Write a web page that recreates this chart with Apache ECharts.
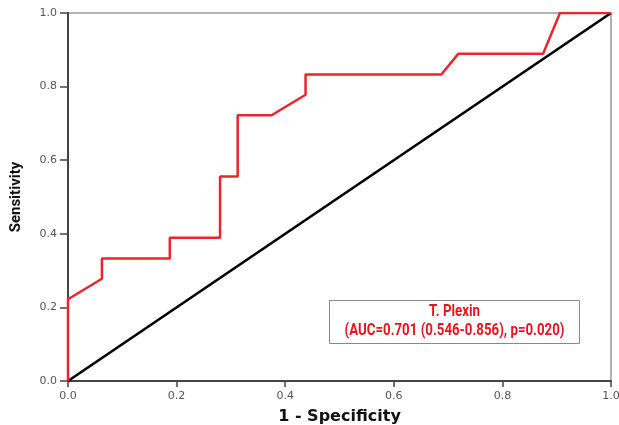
<!DOCTYPE html>
<html>
<head>
<meta charset="utf-8">
<script src="https://cdn.jsdelivr.net/npm/echarts@6/dist/echarts.min.js"></script>
<style>
  html, body { margin: 0; padding: 0; background: #fff; }
  #roc { width: 619px; height: 425px; }
</style>
</head>
<body>
<div id="roc"></div>
<script>
// ROC curve points
var fpr = [0, 0, 0.0625, 0.0625, 0.1875, 0.1875, 0.28, 0.28, 0.3125, 0.3125, 0.375, 0.4375, 0.4375, 0.6875, 0.71875, 0.875, 0.906, 1]
var tpr = [0, 0.222, 0.278, 0.333, 0.333, 0.389, 0.389, 0.556, 0.556, 0.722, 0.722, 0.778, 0.833, 0.833, 0.889, 0.889, 1, 1]
// reference line
var refX = [0, 1]
var refY = [0, 1]
var legendLines = ['T. Plexin', '(AUC=0.701 (0.546-0.856), p=0.020)']

var rocData = fpr.map(function (x, i) { return [x, tpr[i]] })
var refData = refX.map(function (x, i) { return [x, refY[i]] })

var chart = echarts.init(document.getElementById('roc'))

var axisCommon = {
  type: 'value',
  min: 0,
  max: 1,
  interval: 0.2,
  axisLine: { show: true, lineStyle: { color: '#444', width: 2 } },
  axisTick: { show: true, inside: false, length: 6, lineStyle: { color: '#444', width: 1.5 } },
  axisLabel: {
    color: '#555',
    fontSize: 11,
    fontFamily: 'DejaVu Sans',
    formatter: function (v) { return v.toFixed(1) }
  },
  splitLine: { show: false }
}

chart.setOption({
  animation: false,
  backgroundColor: '#fff',
  grid: {
    left: 68,
    right: 8,
    top: 13,
    bottom: 44,
    containLabel: false,
    outerBoundsMode: 'none',
    show: true,
    borderColor: '#999',
    borderWidth: 1.5
  },
  xAxis: Object.assign({}, axisCommon, {
    name: '1 - Specificity',
    nameLocation: 'middle',
    nameGap: 28,
    nameTextStyle: { fontFamily: 'DejaVu Sans', fontWeight: 'bold', fontSize: 16, color: '#111' },
    axisLabel: Object.assign({}, axisCommon.axisLabel, { margin: 10 })
  }),
  yAxis: Object.assign({}, axisCommon, {
    name: 'Sensitivity',
    nameLocation: 'middle',
    nameGap: 44,
    nameTextStyle: { fontFamily: 'Roboto', fontWeight: 'bold', fontSize: 15, color: '#111' },
    axisTick: Object.assign({}, axisCommon.axisTick, { length: 8 }),
    axisLabel: Object.assign({}, axisCommon.axisLabel, { margin: 11 })
  }),
  series: [
    {
      name: 'reference',
      type: 'line',
      data: refData,
      showSymbol: false,
      lineStyle: { color: '#000', width: 2.7 },
      z: 2
    },
    {
      name: 'T. Plexin',
      type: 'line',
      data: rocData,
      showSymbol: false,
      lineStyle: { color: '#e8262b', width: 2.5 },
      z: 3
    }
  ],
  graphic: [
    {
      type: 'rect',
      shape: { x: 329.5, y: 300.5, width: 250, height: 43 },
      style: { fill: '#fff', stroke: '#888', lineWidth: 1 },
      z: 10
    },
    {
      type: 'text',
      x: 454.5,
      y: 302,
      scaleX: 0.83,
      style: {
        text: legendLines.join('\n'),
        align: 'center',
        verticalAlign: 'top',
        fill: '#e8141c',
        fontFamily: 'Roboto',
        fontWeight: 'bold',
        fontSize: 16,
        lineHeight: 19
      },
      z: 11
    }
  ]
})
</script>
</body>
</html>
